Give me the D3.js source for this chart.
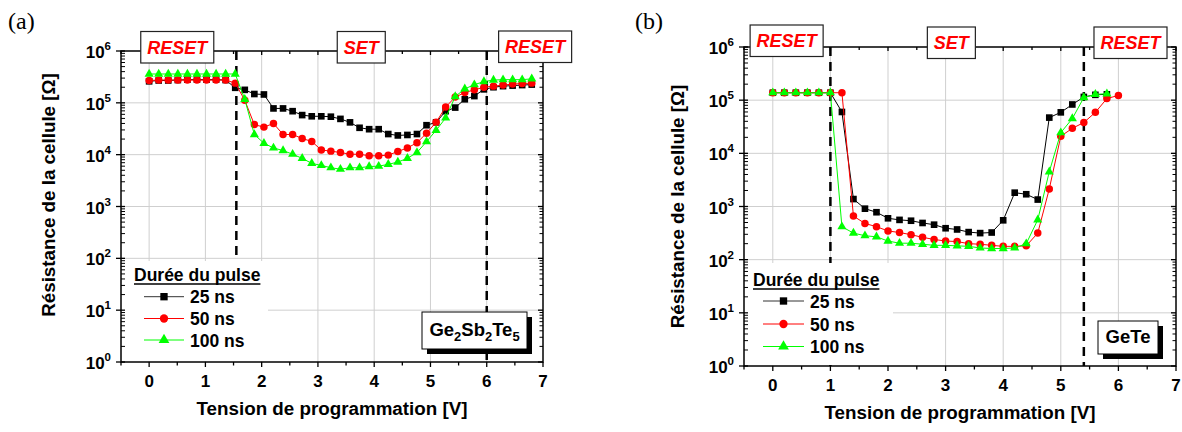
<!DOCTYPE html>
<html>
<head>
<meta charset="utf-8">
<script src="https://cdn.jsdelivr.net/npm/d3@7"></script>
<style>
  body { margin: 0; background: #fff; }
  svg { display: block; }
</style>
</head>
<body>
<svg id="fig" width="1182" height="432"></svg>
<script>
// ---------- data ----------
// panel (a) : Ge2Sb2Te5, voltage steps of 0.17 V
const voltsA = [0, 0.17, 0.34, 0.51, 0.68, 0.85, 1.02, 1.19, 1.36, 1.53,
  1.70, 1.87, 2.04, 2.21, 2.38, 2.55, 2.72, 2.89, 3.06, 3.23,
  3.40, 3.57, 3.74, 3.91, 4.08, 4.25, 4.42, 4.59, 4.76, 4.93,
  5.10, 5.27, 5.44, 5.61, 5.78, 5.95, 6.12, 6.29, 6.46, 6.63, 6.80];
const resA25 = [2.6e5, 2.7e5, 2.7e5, 2.75e5, 2.8e5, 2.8e5, 2.8e5, 2.8e5, 2.75e5, 1.95e5,
  1.78e5, 1.48e5, 1.45e5, 7.8e4, 7.8e4, 6.9e4, 5.8e4, 5.5e4, 5.5e4, 5.4e4,
  4.9e4, 4.2e4, 3.3e4, 3.1e4, 3.1e4, 2.5e4, 2.35e4, 2.4e4, 2.5e4, 3.7e4,
  4.2e4, 6.9e4, 8.1e4, 1.17e5, 1.35e5, 1.82e5, 2.0e5, 2.1e5, 2.15e5, 2.2e5, 2.25e5];
const resA50 = [2.7e5, 2.75e5, 2.75e5, 2.75e5, 2.75e5, 2.75e5, 2.75e5, 2.75e5, 2.75e5, 2.4e5,
  1.12e5, 3.8e4, 3.4e4, 4.0e4, 2.45e4, 2.45e4, 2.05e4, 1.8e4, 1.23e4, 1.17e4,
  1.1e4, 1.02e4, 1.02e4, 9.5e3, 9.5e3, 9.8e3, 1.15e4, 1.35e4, 1.7e4, 2.6e4,
  4.2e4, 8.3e4, 1.29e5, 1.58e5, 1.78e5, 2.0e5, 2.1e5, 2.2e5, 2.3e5, 2.35e5, 2.4e5];
const resA100 = [3.6e5, 3.6e5, 3.6e5, 3.6e5, 3.6e5, 3.6e5, 3.6e5, 3.6e5, 3.6e5, 3.6e5,
  1.17e5, 2.45e4, 1.66e4, 1.35e4, 1.2e4, 1.02e4, 8.5e3, 6.8e3, 6.2e3, 5.6e3,
  5.25e3, 5.6e3, 5.6e3, 5.9e3, 6.0e3, 6.5e3, 7.2e3, 8.5e3, 1.1e4, 1.78e4,
  2.95e4, 5.1e4, 1.32e5, 1.86e5, 2.24e5, 2.57e5, 2.75e5, 2.8e5, 2.8e5, 2.8e5, 2.9e5];

// panel (b) : GeTe, voltage steps of 0.2 V
const voltsB = [0, 0.2, 0.4, 0.6, 0.8, 1.0, 1.2, 1.4, 1.6, 1.8,
  2.0, 2.2, 2.4, 2.6, 2.8, 3.0, 3.2, 3.4, 3.6, 3.8,
  4.0, 4.2, 4.4, 4.6, 4.8, 5.0, 5.2, 5.4, 5.6, 5.8, 6.0];
const resB25 = [1.38e5, 1.38e5, 1.38e5, 1.38e5, 1.38e5, 1.38e5, 6.0e4, 1.38e3, 910, 780,
  600, 560, 540, 490, 455, 390, 370, 330, 316, 324,
  550, 1.82e3, 1.7e3, 1.35e3, 4.7e4, 5.9e4, 8.3e4, 1.15e5, 1.26e5, 1.29e5];
const resB50 = [1.38e5, 1.38e5, 1.38e5, 1.38e5, 1.38e5, 1.38e5, 1.38e5, 660, 480, 417,
  347, 324, 295, 263, 240, 224, 219, 200, 195, 186,
  178, 178, 182, 316, 2.14e3, 2.1e4, 2.95e4, 3.8e4, 5.9e4, 1.07e5, 1.23e5];
const resB100 = [1.38e5, 1.38e5, 1.38e5, 1.38e5, 1.38e5, 1.38e5, 417, 316, 282, 269,
  224, 204, 204, 195, 186, 186, 182, 178, 166, 162,
  162, 166, 200, 562, 4.5e3, 2.45e4, 4.5e4, 1.12e5, 1.29e5, 1.32e5];

const seriesNames = ["25 ns", "50 ns", "100 ns"];
const seriesColors = ["#000000", "#ff0000", "#00ff00"];
const seriesSymbols = [d3.symbolSquare, d3.symbolCircle, d3.symbolTriangle];
const xTicks = [0, 1, 2, 3, 4, 5, 6, 7];
const yDecades = [0, 1, 2, 3, 4, 5, 6];

const sans = "Arial, 'Liberation Sans', sans-serif";
const svg = d3.select("#fig");

const panels = [
  {
    label: "(a)", labelX: 8,
    left: 121, right: 543, top: 51, bottom: 362,
    volts: voltsA, res: [resA25, resA50, resA100],
    dashes: [1.55, 6.0],
    boxes: [{ t: "RESET", v: 0.5, cy: 47 }, { t: "SET", v: 3.77, cy: 47 }, { t: "RESET", v: 6.86, cy: 46.5 }],
    legend: { x0: 120, x1: 268, y0: 261, titleX: 134, titleY: 281, lx0: 144, lx1: 184, tx: 190, rows: [296.7, 318.5, 340] },
    sample: { x0: 422, x1: 527, y0: 312, y1: 349, parts: [["Ge", 0], ["2", 1], ["Sb", 0], ["2", 1], ["Te", 0], ["5", 1]] },
    yTitle: { x: 55, cy: 195 }, xTitleY: 415, tickLabelY: 387
  },
  {
    label: "(b)", labelX: 635,
    left: 744, right: 1176, top: 47, bottom: 366,
    volts: voltsB, res: [resB25, resB50, resB100],
    dashes: [1.0, 5.4],
    boxes: [{ t: "RESET", v: 0.24, cy: 40.5 }, { t: "SET", v: 3.10, cy: 42.5 }, { t: "RESET", v: 6.21, cy: 42.5 }],
    legend: { x0: 745, x1: 893, y0: 263, titleX: 753, titleY: 286, lx0: 763, lx1: 804, tx: 810, rows: [301, 324, 346.5] },
    sample: { x0: 1098, x1: 1158, y0: 321, y1: 354, parts: [["GeTe", 0]] },
    yTitle: { x: 684, cy: 206.5 }, xTitleY: 419, tickLabelY: 391
  }
];

panels.forEach(drawPanel);

function drawPanel(p) {
  const x = d3.scaleLinear().domain([-0.5, 7]).range([p.left, p.right]);
  const y = d3.scaleLog().domain([1, 1e6]).range([p.bottom, p.top]);
  const g = svg.append("g");

  // panel letter
  g.append("text").attr("x", p.labelX).attr("y", 29)
    .attr("font-family", "'Times New Roman', 'Liberation Serif', serif")
    .attr("font-size", 24).text(p.label);

  // grid
  g.selectAll(".gx").data(xTicks.filter(v => v > -0.5 && v < 7)).enter().append("line")
    .attr("x1", d => x(d)).attr("x2", d => x(d)).attr("y1", p.top).attr("y2", p.bottom)
    .attr("stroke", "#cfcfcf").attr("stroke-width", 1);
  g.selectAll(".gy").data(yDecades.filter(k => k > 0 && k < 6)).enter().append("line")
    .attr("x1", p.left).attr("x2", p.right).attr("y1", d => y(Math.pow(10, d))).attr("y2", d => y(Math.pow(10, d)))
    .attr("stroke", "#cfcfcf").attr("stroke-width", 1);

  // dashed boundaries
  g.selectAll(".dash").data(p.dashes).enter().append("line")
    .attr("x1", d => x(d)).attr("x2", d => x(d)).attr("y1", p.top).attr("y2", p.bottom)
    .attr("stroke", "#000").attr("stroke-width", 2.5).attr("stroke-dasharray", "9,6");

  // series
  const line = d3.line().x(d => x(d[0])).y(d => y(d[1]));
  p.res.forEach((vals, i) => {
    const pts = vals.map((r, j) => [p.volts[j], r]);
    g.append("path").datum(pts).attr("d", line)
      .attr("fill", "none").attr("stroke", seriesColors[i]).attr("stroke-width", 1);
    const sym = d3.symbol().type(seriesSymbols[i]).size(i === 2 ? 36 : 44);
    g.selectAll(null).data(pts).enter().append("path")
      .attr("d", sym)
      .attr("transform", d => `translate(${x(d[0])},${y(d[1])})`)
      .attr("fill", seriesColors[i]);
  });

  // legend
  const L = p.legend;
  g.append("rect").attr("x", L.x0).attr("y", L.y0).attr("width", L.x1 - L.x0).attr("height", p.bottom - L.y0 - 1)
    .attr("fill", "#fff");
  const title = g.append("text").attr("x", L.titleX).attr("y", L.titleY)
    .attr("font-family", sans).attr("font-weight", "bold").attr("font-size", 17.5)
    .text("Durée du pulse");
  const tw = title.node().getComputedTextLength();
  g.append("line").attr("x1", L.titleX).attr("x2", L.titleX + tw)
    .attr("y1", L.titleY + 3).attr("y2", L.titleY + 3).attr("stroke", "#000").attr("stroke-width", 1.6);
  L.rows.forEach((ry, i) => {
    g.append("line").attr("x1", L.lx0).attr("x2", L.lx1).attr("y1", ry).attr("y2", ry)
      .attr("stroke", i === 0 ? "#333" : seriesColors[i]).attr("stroke-width", 1);
    g.append("path").attr("d", d3.symbol().type(seriesSymbols[i]).size(i === 2 ? 50 : 54))
      .attr("transform", `translate(${(L.lx0 + L.lx1) / 2},${ry})`).attr("fill", seriesColors[i]);
    g.append("text").attr("x", L.tx).attr("y", ry + 6.5)
      .attr("font-family", sans).attr("font-weight", "bold").attr("font-size", 17.5)
      .text(seriesNames[i]);
  });

  // sample box with shadow
  const S = p.sample;
  g.append("rect").attr("x", S.x0 + 5).attr("y", S.y0 + 5).attr("width", S.x1 - S.x0).attr("height", S.y1 - S.y0)
    .attr("fill", "#000");
  g.append("rect").attr("x", S.x0).attr("y", S.y0).attr("width", S.x1 - S.x0).attr("height", S.y1 - S.y0)
    .attr("fill", "#fff").attr("stroke", "#000").attr("stroke-width", 1);
  const st = g.append("text").attr("x", (S.x0 + S.x1) / 2).attr("y", (S.y0 + S.y1) / 2 + 5.5)
    .attr("text-anchor", "middle").attr("font-family", sans).attr("font-weight", "bold").attr("font-size", 18.5);
  let prevSub = 0;
  S.parts.forEach(([t, sub]) => {
    st.append("tspan").attr("dy", (sub - prevSub) * 5).attr("font-size", sub ? 13 : 18.5).text(t);
    prevSub = sub;
  });

  // axes frame
  g.append("rect").attr("x", p.left).attr("y", p.top).attr("width", p.right - p.left).attr("height", p.bottom - p.top)
    .attr("fill", "none").attr("stroke", "#000").attr("stroke-width", 1.5);

  // x ticks: bottom outward, top inward
  const xMajor = xTicks;
  const xMinor = xTicks.map(v => v - 0.5);
  g.selectAll(".xt").data(xMajor.concat(xMinor)).enter().append("line")
    .attr("x1", d => x(d)).attr("x2", d => x(d))
    .attr("y1", p.bottom).attr("y2", d => p.bottom + (Number.isInteger(d) ? 5 : 3.5))
    .attr("stroke", "#000").attr("stroke-width", 1.3);
  g.selectAll(".xtt").data(xMajor.concat(xMinor)).enter().append("line")
    .attr("x1", d => x(d)).attr("x2", d => x(d))
    .attr("y1", p.top).attr("y2", d => p.top + (Number.isInteger(d) ? 4 : 3))
    .attr("stroke", "#000").attr("stroke-width", 1.3);
  g.selectAll(".xl").data(xMajor).enter().append("text")
    .attr("x", d => x(d)).attr("y", p.tickLabelY).attr("text-anchor", "middle")
    .attr("font-family", sans).attr("font-weight", "bold").attr("font-size", 17)
    .text(d => d);

  // y ticks (log)
  const minors = [];
  yDecades.slice(0, -1).forEach(k => { for (let m = 2; m <= 9; m++) minors.push(m * Math.pow(10, k)); });
  g.selectAll(".ymaj").data(yDecades).enter().append("line")
    .attr("x1", p.left - 5).attr("x2", p.left + 4)
    .attr("y1", d => y(Math.pow(10, d))).attr("y2", d => y(Math.pow(10, d)))
    .attr("stroke", "#000").attr("stroke-width", 1.3);
  g.selectAll(".ymin").data(minors).enter().append("line")
    .attr("x1", p.left).attr("x2", p.left + 4)
    .attr("y1", d => y(d)).attr("y2", d => y(d))
    .attr("stroke", "#000").attr("stroke-width", 1);
  g.selectAll(".ymajr").data(yDecades).enter().append("line")
    .attr("x1", p.right - 5).attr("x2", p.right)
    .attr("y1", d => y(Math.pow(10, d))).attr("y2", d => y(Math.pow(10, d)))
    .attr("stroke", "#000").attr("stroke-width", 1.3);
  g.selectAll(".yminr").data(minors).enter().append("line")
    .attr("x1", p.right - 3.5).attr("x2", p.right)
    .attr("y1", d => y(d)).attr("y2", d => y(d))
    .attr("stroke", "#000").attr("stroke-width", 1);
  const yl = g.selectAll(".yl").data(yDecades).enter().append("text")
    .attr("x", p.left - 10).attr("y", d => y(Math.pow(10, d)) + 7).attr("text-anchor", "end")
    .attr("font-family", sans).attr("font-weight", "bold").attr("font-size", 17);
  yl.append("tspan").text("10");
  yl.append("tspan").attr("dy", -8).attr("font-size", 11.5).text(d => d);

  // axis titles
  g.append("text").attr("x", (p.left + p.right) / 2).attr("y", p.xTitleY).attr("text-anchor", "middle")
    .attr("font-family", sans).attr("font-weight", "bold").attr("font-size", 18.8)
    .text("Tension de programmation [V]");
  g.append("text").attr("transform", `translate(${p.yTitle.x},${p.yTitle.cy}) rotate(-90)`)
    .attr("text-anchor", "middle")
    .attr("font-family", sans).attr("font-weight", "bold").attr("font-size", 18.8)
    .text("Résistance de la cellule [Ω]");

  // RESET / SET boxes on top axis
  p.boxes.forEach(b => {
    const bx = x(b.v);
    const txt = g.append("text").attr("x", bx).attr("y", b.cy + 6.5).attr("text-anchor", "middle")
      .attr("font-family", sans).attr("font-weight", "bold").attr("font-style", "italic")
      .attr("font-size", 18).attr("fill", "#ff0000").text(b.t);
    const w = txt.node().getComputedTextLength() + 13;
    g.insert("rect", () => txt.node())
      .attr("x", bx - w / 2).attr("y", b.cy - 15.5).attr("width", w).attr("height", 31.5)
      .attr("fill", "#fff").attr("stroke", "#222").attr("stroke-width", 1.2);
  });
}
</script>
</body>
</html>
